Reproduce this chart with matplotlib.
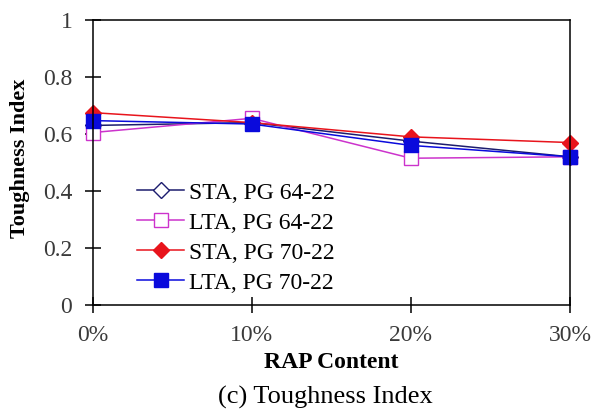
import matplotlib
matplotlib.use("Agg")
import matplotlib.pyplot as plt

rap = [0, 10, 20, 30]
xticklabels = ["0%", "10%", "20%", "30%"]
sta_64 = [0.63, 0.64, 0.575, 0.52]
lta_64 = [0.605, 0.655, 0.515, 0.52]
sta_70 = [0.675, 0.64, 0.59, 0.57]
lta_70 = [0.647, 0.635, 0.56, 0.52]
labels = ["STA, PG 64-22", "LTA, PG 64-22", "STA, PG 70-22", "LTA, PG 70-22"]

plt.rcParams['font.family'] = ['Liberation Serif', 'DejaVu Serif']

fig = plt.figure(figsize=(5.94, 4.13), dpi=100)
L, R, T, B = 92.5, 570, 20, 305
ax = fig.add_axes([L/594, 1-B/413, (R-L)/594, (B-T)/413])

common = dict(lw=1.1, clip_on=False)
ax.plot(rap, sta_64, color='#1c1c6e', marker='D', ms=8, mfc='white', mec='#1c1c6e', mew=1.0, label=labels[0], **common)
ax.plot(rap, lta_64, color='#cc33cc', marker='s', ms=10, mfc='white', mec='#cc33cc', mew=1.0, label=labels[1], **common)
ax.plot(rap, sta_70, color='#e8141c', marker='D', ms=8, mfc='#e8141c', mec='#e8141c', label=labels[2], **common)
ax.plot(rap, lta_70, color='#0a0adc', marker='s', ms=10, mfc='#0a0adc', mec='#0a0adc', label=labels[3], **common)

ax.set_xlim(0, 30)
ax.set_ylim(0, 1)
ax.set_xticks(rap)
ax.set_xticklabels(xticklabels)
ax.set_yticks([0, 0.2, 0.4, 0.6, 0.8, 1])
ax.set_yticklabels(["0", "0.2", "0.4", "0.6", "0.8", "1"])
ax.tick_params(direction='inout', length=11, width=1.1, labelsize=17, colors='black', labelcolor='#3a3a3a')
ax.tick_params(axis='x', pad=9)
ax.tick_params(axis='y', pad=9)
for s in ax.spines.values():
    s.set_linewidth(1.1)
    s.set_color('black')

ax.set_ylabel("Toughness Index", fontsize=16, fontweight='bold', va='center')
ax.yaxis.set_label_coords(-(L-20)/(R-L), (B-158)/(B-T))
ax.set_xlabel("RAP Content", fontsize=17, fontweight='bold', va='center')
ax.xaxis.set_label_coords(0.5, -(363-B)/(B-T))
fig.text((217+433)/2/594, 1-397/413, "(c) Toughness Index", ha='center', va='center', fontsize=19)

leg = ax.legend(loc='upper left', bbox_to_anchor=((137-L)/(R-L), (B-182)/(B-T)), frameon=False, fontsize=17,
                handlelength=2.0, handletextpad=0.2, labelspacing=0.36, borderaxespad=0, borderpad=0)

fig.savefig("out.png", dpi=100)
